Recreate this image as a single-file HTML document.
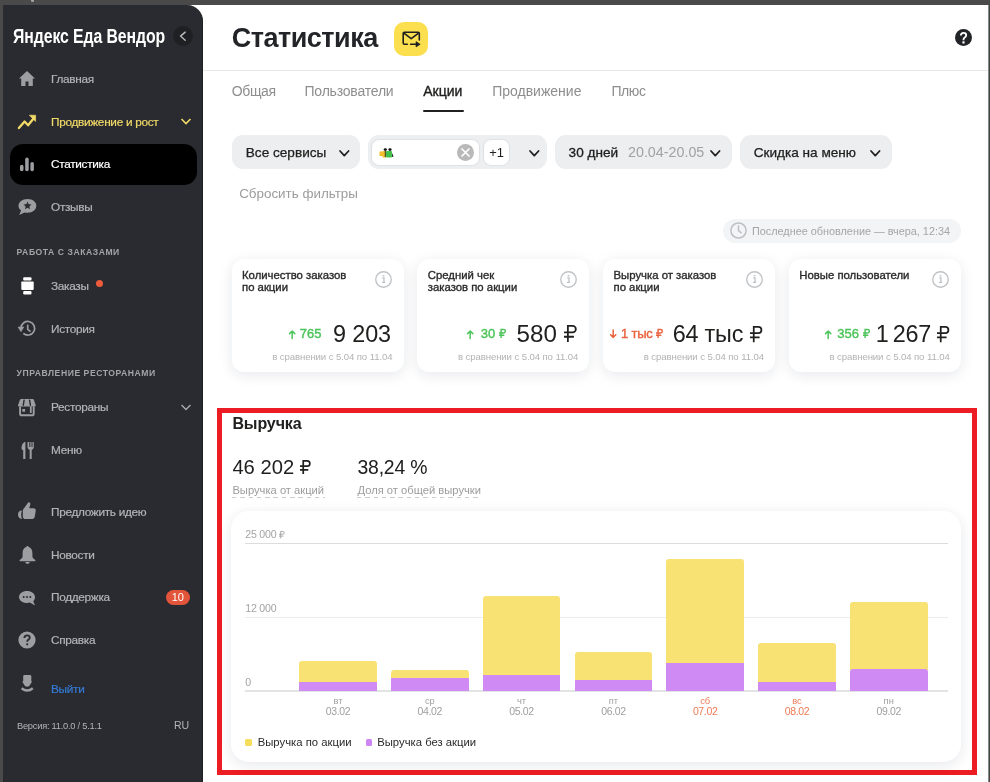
<!DOCTYPE html><html><head><meta charset="utf-8"><title>Статистика</title><style>
*{margin:0;padding:0;box-sizing:border-box}
html,body{width:990px;height:782px;overflow:hidden}
body{background:#4a4a4a;font-family:"Liberation Sans",sans-serif;position:relative}
#w{position:absolute;left:0;top:0;width:990px;height:782px;will-change:transform}
.t{position:absolute;white-space:nowrap}
.a{position:absolute}
svg{position:absolute;overflow:visible}
.rub{position:static;display:inline-block;vertical-align:baseline;width:0.56em;height:0.7em}
</style></head><body><div id="w">
<div class="a" style="left:180px;top:5px;width:808.00px;height:777.00px;background:#fff"></div>
<div class="a" style="left:988px;top:5px;width:1.00px;height:777.00px;background:#8a8a8a"></div>
<div class="a" style="left:989px;top:5px;width:1.00px;height:777.00px;background:#444"></div>
<div class="a" style="left:203px;top:70px;width:785.00px;height:1.00px;background:#e8e8e8"></div>
<div class="a" style="left:3px;top:5px;width:200.00px;height:777.00px;background:#2a2b30;border-top-right-radius:16px;border-right:1px solid #1f2024"></div>
<div class="a" style="left:30.8px;top:-1px;width:3.60px;height:3.00px;background:#a8a8a8;border-radius:50%"></div>
<div class="t" style="top:26px;font-size:20px;line-height:20px;color:#fff;font-weight:bold;left:13px;transform:scaleX(0.79);transform-origin:0 0;letter-spacing:-0.1px">Яндекс Еда Вендор</div>
<div class="a" style="left:172.5px;top:26px;width:20.00px;height:20.00px;background:#1f2024;border-radius:50%"></div>
<svg style="left:178px;top:31px" width="10" height="10" viewBox="0 0 10 10"><path d="M7.2 1.1L2.5 5.1l4.7 4.2" fill="none" stroke="#b9b9b9" stroke-width="1.4" stroke-linecap="round" stroke-linejoin="round"/></svg>
<div class="a" style="left:10px;top:144px;width:186.50px;height:40.50px;background:#000;border-radius:13px"></div>
<div class="t" style="top:74px;font-size:11.8px;line-height:11.8px;color:#b3b4b8;left:51px;letter-spacing:-0.3px;-webkit-text-stroke:0.2px #b3b4b8">Главная</div>
<div class="t" style="top:117px;font-size:11.8px;line-height:11.8px;color:#f1da68;left:51px;letter-spacing:-0.3px;-webkit-text-stroke:0.2px #f1da68">Продвижение и рост</div>
<div class="t" style="top:159px;font-size:11.8px;line-height:11.8px;color:#fff;left:51px;letter-spacing:-0.3px;-webkit-text-stroke:0.2px #fff">Статистика</div>
<div class="t" style="top:202px;font-size:11.8px;line-height:11.8px;color:#b3b4b8;left:51px;letter-spacing:-0.3px;-webkit-text-stroke:0.2px #b3b4b8">Отзывы</div>
<div class="t" style="top:281px;font-size:11.8px;line-height:11.8px;color:#b3b4b8;left:51px;letter-spacing:-0.3px;-webkit-text-stroke:0.2px #b3b4b8">Заказы</div>
<div class="t" style="top:324px;font-size:11.8px;line-height:11.8px;color:#b3b4b8;left:51px;letter-spacing:-0.3px;-webkit-text-stroke:0.2px #b3b4b8">История</div>
<div class="t" style="top:402px;font-size:11.8px;line-height:11.8px;color:#b3b4b8;left:51px;letter-spacing:-0.3px;-webkit-text-stroke:0.2px #b3b4b8">Рестораны</div>
<div class="t" style="top:445px;font-size:11.8px;line-height:11.8px;color:#b3b4b8;left:51px;letter-spacing:-0.3px;-webkit-text-stroke:0.2px #b3b4b8">Меню</div>
<div class="t" style="top:507px;font-size:11.8px;line-height:11.8px;color:#b3b4b8;left:51px;letter-spacing:-0.3px;-webkit-text-stroke:0.2px #b3b4b8">Предложить идею</div>
<div class="t" style="top:550px;font-size:11.8px;line-height:11.8px;color:#b3b4b8;left:51px;letter-spacing:-0.3px;-webkit-text-stroke:0.2px #b3b4b8">Новости</div>
<div class="t" style="top:592px;font-size:11.8px;line-height:11.8px;color:#b3b4b8;left:51px;letter-spacing:-0.3px;-webkit-text-stroke:0.2px #b3b4b8">Поддержка</div>
<div class="t" style="top:635px;font-size:11.8px;line-height:11.8px;color:#b3b4b8;left:51px;letter-spacing:-0.3px;-webkit-text-stroke:0.2px #b3b4b8">Справка</div>
<div class="t" style="top:684px;font-size:11.8px;line-height:11.8px;color:#3479d2;left:51px;letter-spacing:-0.3px;-webkit-text-stroke:0.2px #3479d2">Выйти</div>
<div class="t" style="top:248px;font-size:8.6px;line-height:8.6px;color:#a3a4a8;font-weight:bold;left:16.6px;letter-spacing:0.55px">РАБОТА С ЗАКАЗАМИ</div>
<div class="t" style="top:369px;font-size:8.6px;line-height:8.6px;color:#a3a4a8;font-weight:bold;left:16.6px;letter-spacing:0.55px">УПРАВЛЕНИЕ РЕСТОРАНАМИ</div>
<div class="t" style="top:722px;font-size:9.3px;line-height:9.3px;color:#b3b4b8;left:17px;letter-spacing:-0.25px">Версия: 11.0.0 / 5.1.1</div>
<div class="t" style="top:720px;font-size:10.6px;line-height:10.6px;color:#b3b4b8;right:800.80px;text-align:right;">RU</div>
<div class="a" style="left:96px;top:279.5px;width:7.00px;height:7.00px;background:#ec5b3c;border-radius:50%"></div>
<div class="a" style="left:166px;top:589.5px;width:23.50px;height:15.50px;background:#e3553a;border-radius:8px"></div>
<div class="t" style="top:592px;font-size:11px;line-height:11px;color:#fff;left:162.75px;width:30px;text-align:center;">10</div>
<svg style="left:180px;top:117px" width="12" height="8" viewBox="0 0 12 8"><path d="M1.5 2l4.5 4.5L10.5 2" fill="none" stroke="#f1da68" stroke-width="1.6"/></svg>
<svg style="left:180px;top:403px" width="12" height="8" viewBox="0 0 12 8"><path d="M1.5 2l4.5 4.5L10.5 2" fill="none" stroke="#a9aaae" stroke-width="1.4"/></svg>
<svg style="left:19px;top:71px" width="16" height="15" viewBox="0 0 16 15"><path d="M8 0L0 7.5h2.2V15h4.3v-4.5h3V15h4.3V7.5H16z" fill="#9d9ea2"/></svg>
<svg style="left:18px;top:114.5px" width="18" height="15" viewBox="0 0 18 15"><path d="M0.9 13.1L6.6 6.5l3.5 3.8 5.6-7.1" fill="none" stroke="#f1da68" stroke-width="2.3" stroke-linecap="round" stroke-linejoin="round"/><path d="M11.3 0.2h6.3v6.3z" fill="#f1da68" stroke="#f1da68" stroke-width="0.6" stroke-linejoin="round"/></svg>
<svg style="left:20px;top:157px" width="15" height="14" viewBox="0 0 15 14"><rect x="0" y="7.8" width="3.5" height="6.4" rx="1.75" fill="#9d9ea2"/><rect x="5.2" y="0.6" width="3.5" height="13.6" rx="1.75" fill="#9d9ea2"/><rect x="10.4" y="5.1" width="3.5" height="9.1" rx="1.75" fill="#9d9ea2"/></svg>
<svg style="left:17.5px;top:199px" width="19" height="16" viewBox="0 0 19 16"><path d="M9.5 0C4.3 0 0.5 3 0.5 6.8c0 2 1 3.6 2.6 4.8L1.2 16l5.3-2.6c1 .3 2 .4 3 .4 5.2 0 8.8-3 8.8-7S14.7 0 9.5 0z" fill="#9d9ea2"/><path d="M9.5 2.6l1.2 2.6 2.8.3-2.1 1.9.6 2.8-2.5-1.5-2.5 1.5.6-2.8-2.1-1.9 2.8-.3z" fill="#2a2b30"/></svg>
<svg style="left:20.5px;top:277px" width="13" height="18" viewBox="0 0 13 18"><rect x="2.2" y="0.3" width="8.3" height="3.3" rx="1" fill="#fff"/><rect x="0.3" y="4.5" width="12.4" height="8.4" rx="0.8" fill="#fff"/><rect x="2.2" y="14" width="8.3" height="3.4" rx="1" fill="#fff"/></svg>
<svg style="left:18px;top:320px" width="18" height="17" viewBox="0 0 18 17"><path d="M3.0 8.0A6.8 6.8 0 1 1 5.3 13.4" fill="none" stroke="#9d9ea2" stroke-width="1.7"/><path d="M0 7h5.9L2.95 11.8z" fill="#9d9ea2" stroke="#9d9ea2" stroke-width="0.5" stroke-linejoin="round"/><path d="M9.7 5.2v4.1l2.3 1.9" fill="none" stroke="#9d9ea2" stroke-width="1.6" stroke-linecap="round"/></svg>
<svg style="left:18.3px;top:399px" width="18" height="18" viewBox="0 0 18 18"><path d="M3.2 0h11.4q1 0 1.3.9l1.8 5.4q.3 1.3-1 1.3H1q-1.3 0-1-1.3L1.9.9Q2.2 0 3.2 0z" fill="#9d9ea2"/><path d="M6.1 1.2L5.3 6.2M11.6 1.2l.8 5" stroke="#2a2b30" stroke-width="1.4" stroke-linecap="round"/><path d="M2.1 7.4v7.3q0 1.6 1.6 1.6h10.4q1.6 0 1.6-1.6V7.4" fill="none" stroke="#9d9ea2" stroke-width="1.9"/><rect x="4.3" y="10" width="2.8" height="2.7" fill="#9d9ea2"/><rect x="11.9" y="7.4" width="1.8" height="6.6" fill="#9d9ea2"/></svg>
<svg style="left:20.5px;top:441.5px" width="13" height="17" viewBox="0 0 13 17"><path d="M3.5 0C1.5 1 .5 3.5.5 6c0 1.2.7 2 1.7 2.2V17h2.2V0z" fill="#9d9ea2"/><path d="M6.5 0v5c0 1.5 1 2.5 2.2 2.7V17h2V7.7C11.9 7.5 12.8 6.5 12.8 5V0h-1.3v5h-1V0H9.3v5h-1V0z" fill="#9d9ea2"/></svg>
<svg style="left:18px;top:502px" width="18" height="17" viewBox="0 0 18 17"><path d="M4 8.4C1.2 8.4 0 10.4 0 12.6S1.2 16.9 4 16.9C3.4 15.6 3.2 14.2 3.2 12.6S3.4 9.6 4 8.4z" fill="#9d9ea2"/><path d="M4.8 9.2c0-1.2.5-2.1 1.3-2.9L9.6 1.2c.7-1 1.6-1.1 2.2-.5.6.5.7 1.3.4 2.3L11.2 6.3h4.2c1.7 0 2.5 1 2.3 2.6l-.9 5.6c-.4 1.9-1.6 2.6-3.2 2.6H7.6c-1.8 0-2.8-1.1-2.8-2.9z" fill="#9d9ea2"/></svg>
<svg style="left:18.5px;top:545px" width="17" height="19" viewBox="0 0 17 19"><path d="M8.5 1c-.7 0-1.1.5-1.1 1.1C4.8 2.8 3.6 5.1 3.6 8v3.3c0 1.1-.6 2-1.5 2.6l-1.2.8c-.7.5-.4 1.5.5 1.5h14.2c.9 0 1.2-1 .5-1.5l-1.2-.8c-.9-.6-1.5-1.5-1.5-2.6V8c0-2.9-1.2-5.2-3.8-5.9C9.6 1.5 9.2 1 8.5 1z" fill="#9d9ea2"/><path d="M6.3 16.9h4.4c0 1-.9 1.8-2.2 1.8s-2.2-.8-2.2-1.8z" fill="#9d9ea2"/></svg>
<svg style="left:18.5px;top:590.5px" width="17" height="15" viewBox="0 0 17 15"><path d="M8 0C3.6 0 0 2.6 0 6s3.6 6 8 6c1 0 2-.1 2.8-.4L16 14.5l-1.7-4.3C15.4 9.1 16 7.6 16 6c0-3.4-3.6-6-8-6z" fill="#9d9ea2"/><circle cx="4.7" cy="6" r="1" fill="#2a2b30"/><circle cx="8" cy="6" r="1" fill="#2a2b30"/><circle cx="11.3" cy="6" r="1" fill="#2a2b30"/></svg>
<svg style="left:18px;top:631px" width="18" height="18" viewBox="0 0 18 18"><circle cx="9" cy="9" r="8.6" fill="#9d9ea2"/><path d="M6.4 7c0-1.6 1.1-2.6 2.7-2.6s2.6 1 2.6 2.3c0 1.1-.6 1.6-1.4 2.1-.7.4-1 .8-1 1.6v.4" fill="none" stroke="#2a2b30" stroke-width="1.9"/><circle cx="9.2" cy="13.3" r="1.1" fill="#2a2b30"/></svg>
<svg style="left:19.5px;top:675px" width="15" height="17" viewBox="0 0 15 17"><path d="M3.2 1.3Q3.2 0 4.6 0H9.9Q11.3 0 11.3 1.3V6.1L11.8 6.5Q11.9 7.7 11 8.2Q9.4 11.8 7.1 11.8Q4.8 11.8 3.3 8.2Q2.4 7.7 2.5 6.5L3.2 6.1Z" fill="#9d9ea2"/><path d="M1.6 13.2Q7.2 17.7 12.8 13.2" fill="none" stroke="#9d9ea2" stroke-width="2.4"/></svg>
<div class="t" style="top:25px;font-size:27px;line-height:27px;color:#232428;font-weight:bold;left:231.8px;letter-spacing:-0.5px">Статистика</div>
<div class="a" style="left:394px;top:21.5px;width:34.00px;height:34.00px;background:#fbdf4f;border-radius:10px"></div>
<svg style="left:402px;top:31px" width="19" height="17" viewBox="0 0 19 17"><path d="M5.3 13.3H2.4q-1.2 0-1.2-1.2V2.5q0-1.2 1.2-1.2h13.7q1.2 0 1.2 1.2V9" fill="none" stroke="#1f1f22" stroke-width="1.6" stroke-linecap="round"/><path d="M1.9 2.1l7.3 5.6 7.4-5.6" fill="none" stroke="#1f1f22" stroke-width="1.6" stroke-linejoin="round"/><path d="M8.6 13.3h6" stroke="#1f1f22" stroke-width="1.6" stroke-linecap="round"/><path d="M14 10.6l4.2 2.7-4.2 2.7z" fill="#1f1f22" stroke="#1f1f22" stroke-width="0.6" stroke-linejoin="round"/></svg>
<div class="a" style="left:955px;top:29px;width:17.40px;height:17.40px;background:#222327;border-radius:50%"></div>
<svg style="left:955.2px;top:29.2px" width="17" height="17" viewBox="0 0 17 17"><path d="M5.9 6.6c0-1.6 1.2-2.7 2.7-2.7s2.6 1 2.6 2.4c0 1.2-.7 1.8-1.5 2.3-.8.5-1.2 1-1.2 2v.7" fill="none" stroke="#fff" stroke-width="1.8"/><rect x="7.4" y="12.3" width="2.2" height="2.2" fill="#fff"/></svg>
<div class="t" style="top:84px;font-size:14px;line-height:14px;color:#8d8d8d;left:231.8px;letter-spacing:-0.4px">Общая</div>
<div class="t" style="top:84px;font-size:14px;line-height:14px;color:#8d8d8d;left:304.5px;letter-spacing:-0.2px">Пользователи</div>
<div class="t" style="top:84px;font-size:14px;line-height:14px;color:#21201f;left:423.2px;-webkit-text-stroke:0.35px #21201f">Акции</div>
<div class="t" style="top:84px;font-size:14px;line-height:14px;color:#8d8d8d;left:492.2px;">Продвижение</div>
<div class="t" style="top:84px;font-size:14px;line-height:14px;color:#8d8d8d;left:611.4px;letter-spacing:-0.4px">Плюс</div>
<div class="a" style="left:423px;top:109.5px;width:40.50px;height:2.50px;background:#21201f;border-radius:2px"></div>
<div class="a" style="left:232px;top:135.4px;width:128.00px;height:33.60px;background:#eceef0;border-radius:11px"></div>
<div class="t" style="top:146px;font-size:13.6px;line-height:13.6px;color:#21201f;left:245.8px;-webkit-text-stroke:0.25px #21201f">Все сервисы</div>
<svg style="left:338.5px;top:149.5px" width="10.6" height="6.6" viewBox="0 0 10.6 6.6"><path d="M1 1l4.3 4.6l4.3 -4.6" fill="none" stroke="#21201f" stroke-width="1.75" stroke-linecap="round" stroke-linejoin="round"/></svg>
<div class="a" style="left:368px;top:135.4px;width:179.30px;height:33.60px;background:#eceef0;border-radius:11px"></div>
<div class="a" style="left:371.7px;top:139.6px;width:106.90px;height:25.90px;background:#fff;border-radius:7px;box-shadow:0 0 0 0.8px #dcdee2"></div>
<div class="a" style="left:484px;top:139.6px;width:25.30px;height:25.90px;background:#fff;border-radius:7px;box-shadow:0 0 0 0.8px #dcdee2"></div>
<div class="t" style="top:147px;font-size:12.9px;line-height:12.9px;color:#21201f;left:481.60px;width:30px;text-align:center;">+1</div>
<div class="a" style="left:457.1px;top:143.9px;width:17.40px;height:17.40px;background:#b9b9b9;border-radius:50%"></div>
<svg style="left:461.3px;top:148.1px" width="9" height="9" viewBox="0 0 9 9"><path d="M1 1l7 7M8 1L1 8" stroke="#fff" stroke-width="1.7" stroke-linecap="round"/></svg>
<svg style="left:379px;top:147px" width="15" height="11" viewBox="0 0 15 11"><path d="M0.5 4.5h3l.5-.5h3v6.5H3.5v-1.5H0.5z" fill="#f4be2f"/><rect x="7" y="4" width="6" height="6.5" rx="1" fill="#43c04c"/><ellipse cx="6.3" cy="2.6" rx="1.6" ry="1.3" fill="#111"/><ellipse cx="11" cy="2.6" rx="1.6" ry="1.3" fill="#111"/><path d="M13 6l1.6 3.6-1.6.4z" fill="#222"/><path d="M6.3 4v6" stroke="#1c2a1c" stroke-width="0.9"/></svg>
<svg style="left:528.7px;top:149.5px" width="10.6" height="6.6" viewBox="0 0 10.6 6.6"><path d="M1 1l4.3 4.6l4.3 -4.6" fill="none" stroke="#21201f" stroke-width="1.75" stroke-linecap="round" stroke-linejoin="round"/></svg>
<div class="a" style="left:555.2px;top:135.4px;width:177.10px;height:33.60px;background:#eceef0;border-radius:11px"></div>
<div class="t" style="top:146px;font-size:13.6px;line-height:13.6px;color:#21201f;left:568.6px;-webkit-text-stroke:0.3px #21201f">30 дней</div>
<div class="t" style="top:145px;font-size:14.3px;line-height:14.3px;color:#a2a2a2;left:628px;">20.04-20.05</div>
<svg style="left:709.8px;top:149.5px" width="10.6" height="6.6" viewBox="0 0 10.6 6.6"><path d="M1 1l4.3 4.6l4.3 -4.6" fill="none" stroke="#21201f" stroke-width="1.75" stroke-linecap="round" stroke-linejoin="round"/></svg>
<div class="a" style="left:740px;top:135.4px;width:152.00px;height:33.60px;background:#eceef0;border-radius:11px"></div>
<div class="t" style="top:146px;font-size:13.6px;line-height:13.6px;color:#21201f;left:753.7px;-webkit-text-stroke:0.25px #21201f">Скидка на меню</div>
<svg style="left:869.5px;top:149.5px" width="10.6" height="6.6" viewBox="0 0 10.6 6.6"><path d="M1 1l4.3 4.6l4.3 -4.6" fill="none" stroke="#21201f" stroke-width="1.75" stroke-linecap="round" stroke-linejoin="round"/></svg>
<div class="t" style="top:187px;font-size:13.4px;line-height:13.4px;color:#9c9c9c;left:239.2px;">Сбросить фильтры</div>
<div class="a" style="left:722.6px;top:218.8px;width:238.60px;height:24.00px;background:#f3f4f6;border-radius:12px"></div>
<svg style="left:730.3px;top:222.3px" width="17" height="17" viewBox="0 0 17 17"><circle cx="8.5" cy="8.5" r="7.6" fill="none" stroke="#bdc0c3" stroke-width="1.5"/><path d="M8.5 4v4.7l2.7 2.1" fill="none" stroke="#bdc0c3" stroke-width="1.5" stroke-linecap="round"/></svg>
<div class="t" style="top:226px;font-size:10.85px;line-height:10.85px;color:#a5a5a5;left:752px;">Последнее обновление — вчера, 12:34</div>
<div class="a" style="left:231.6px;top:258.5px;width:171.95px;height:113.30px;background:#fff;border-radius:12px;box-shadow:0 3px 14px rgba(20,30,60,0.10)"></div>
<div class="t" style="top:270px;font-size:11.35px;line-height:11.35px;color:#2b2b2b;left:242px;-webkit-text-stroke:0.35px #2b2b2b">Количество заказов</div>
<div class="t" style="top:282px;font-size:11.35px;line-height:11.35px;color:#2b2b2b;left:242px;-webkit-text-stroke:0.35px #2b2b2b">по акции</div>
<svg style="left:374.65px;top:270.5px" width="17" height="17" viewBox="0 0 17 17"><circle cx="8.5" cy="8.5" r="7.75" fill="none" stroke="#c0c3c6" stroke-width="1.4"/><rect x="7.7" y="4" width="1.7" height="1.4" fill="#c0c3c6"/><path d="M7.2 6.9h1.8v4.4M7 11.3h3.2" fill="none" stroke="#c0c3c6" stroke-width="1.3"/></svg>
<div class="a" style="left:417.35px;top:258.5px;width:171.95px;height:113.30px;background:#fff;border-radius:12px;box-shadow:0 3px 14px rgba(20,30,60,0.10)"></div>
<div class="t" style="top:270px;font-size:11.35px;line-height:11.35px;color:#2b2b2b;left:427.75px;-webkit-text-stroke:0.35px #2b2b2b">Средний чек</div>
<div class="t" style="top:282px;font-size:11.35px;line-height:11.35px;color:#2b2b2b;left:427.75px;-webkit-text-stroke:0.35px #2b2b2b">заказов по акции</div>
<svg style="left:560.4px;top:270.5px" width="17" height="17" viewBox="0 0 17 17"><circle cx="8.5" cy="8.5" r="7.75" fill="none" stroke="#c0c3c6" stroke-width="1.4"/><rect x="7.7" y="4" width="1.7" height="1.4" fill="#c0c3c6"/><path d="M7.2 6.9h1.8v4.4M7 11.3h3.2" fill="none" stroke="#c0c3c6" stroke-width="1.3"/></svg>
<div class="a" style="left:603.1px;top:258.5px;width:171.95px;height:113.30px;background:#fff;border-radius:12px;box-shadow:0 3px 14px rgba(20,30,60,0.10)"></div>
<div class="t" style="top:270px;font-size:11.35px;line-height:11.35px;color:#2b2b2b;left:613.5px;-webkit-text-stroke:0.35px #2b2b2b">Выручка от заказов</div>
<div class="t" style="top:282px;font-size:11.35px;line-height:11.35px;color:#2b2b2b;left:613.5px;-webkit-text-stroke:0.35px #2b2b2b">по акции</div>
<svg style="left:746.15px;top:270.5px" width="17" height="17" viewBox="0 0 17 17"><circle cx="8.5" cy="8.5" r="7.75" fill="none" stroke="#c0c3c6" stroke-width="1.4"/><rect x="7.7" y="4" width="1.7" height="1.4" fill="#c0c3c6"/><path d="M7.2 6.9h1.8v4.4M7 11.3h3.2" fill="none" stroke="#c0c3c6" stroke-width="1.3"/></svg>
<div class="a" style="left:788.85px;top:258.5px;width:171.95px;height:113.30px;background:#fff;border-radius:12px;box-shadow:0 3px 14px rgba(20,30,60,0.10)"></div>
<div class="t" style="top:270px;font-size:11.35px;line-height:11.35px;color:#2b2b2b;left:799.25px;-webkit-text-stroke:0.35px #2b2b2b">Новые пользователи</div>
<svg style="left:931.9px;top:270.5px" width="17" height="17" viewBox="0 0 17 17"><circle cx="8.5" cy="8.5" r="7.75" fill="none" stroke="#c0c3c6" stroke-width="1.4"/><rect x="7.7" y="4" width="1.7" height="1.4" fill="#c0c3c6"/><path d="M7.2 6.9h1.8v4.4M7 11.3h3.2" fill="none" stroke="#c0c3c6" stroke-width="1.3"/></svg>
<div class="t" style="top:323px;font-size:23.4px;line-height:23.4px;color:#21201f;right:599.00px;text-align:right;letter-spacing:-0.1px">9 203</div>
<div class="t" style="top:327px;font-size:13px;line-height:13px;color:#4cc45a;right:668.60px;text-align:right;-webkit-text-stroke:0.4px #4cc45a">765</div>
<svg style="left:288.7px;top:329.5px" width="6.4" height="8.4" viewBox="0 0 6.4 8.4"><path d="M3.2 8.4V1M0.6 3.6L3.2 1l2.6 2.6" fill="none" stroke="#4cc45a" stroke-width="1.5" stroke-linecap="round" stroke-linejoin="round"/></svg>
<div class="t" style="top:322px;font-size:24.2px;line-height:24.2px;color:#21201f;right:412.80px;text-align:right;">580 <svg class="rub" viewBox="0 0 56 70" width="0.56em" height="0.7em"><path d="M16 70V3.9H35.5A13.4 13.4 0 0 1 35.5 30.7H0M0 48.5H41" fill="none" stroke="currentColor" stroke-width="7.5"/></svg></div>
<div class="t" style="top:327px;font-size:13px;line-height:13px;color:#4cc45a;right:483.80px;text-align:right;-webkit-text-stroke:0.4px #4cc45a">30 <svg class="rub" viewBox="0 0 56 70" width="0.56em" height="0.7em"><path d="M16 70V3.9H35.5A13.4 13.4 0 0 1 35.5 30.7H0M0 48.5H41" fill="none" stroke="currentColor" stroke-width="11"/></svg></div>
<svg style="left:467.4px;top:329.5px" width="6.4" height="8.4" viewBox="0 0 6.4 8.4"><path d="M3.2 8.4V1M0.6 3.6L3.2 1l2.6 2.6" fill="none" stroke="#4cc45a" stroke-width="1.5" stroke-linecap="round" stroke-linejoin="round"/></svg>
<div class="t" style="top:323px;font-size:23.4px;line-height:23.4px;color:#21201f;right:227.40px;text-align:right;letter-spacing:-0.2px">64 тыс <svg class="rub" viewBox="0 0 56 70" width="0.56em" height="0.7em"><path d="M16 70V3.9H35.5A13.4 13.4 0 0 1 35.5 30.7H0M0 48.5H41" fill="none" stroke="currentColor" stroke-width="7.5"/></svg></div>
<div class="t" style="top:327px;font-size:13px;line-height:13px;color:#e9633d;right:326.70px;text-align:right;letter-spacing:-0.2px;-webkit-text-stroke:0.4px #e9633d">1 тыс <svg class="rub" viewBox="0 0 56 70" width="0.56em" height="0.7em"><path d="M16 70V3.9H35.5A13.4 13.4 0 0 1 35.5 30.7H0M0 48.5H41" fill="none" stroke="currentColor" stroke-width="11"/></svg></div>
<svg style="left:610.3px;top:329.5px" width="6.4" height="8.4" viewBox="0 0 6.4 8.4"><path d="M3.2 0V7.4M0.6 4.8L3.2 7.4l2.6-2.6" fill="none" stroke="#e9633d" stroke-width="1.5" stroke-linecap="round" stroke-linejoin="round"/></svg>
<div class="t" style="top:323px;font-size:23.4px;line-height:23.4px;color:#21201f;right:39.80px;text-align:right;letter-spacing:-0.3px">1&#8201;267 <svg class="rub" viewBox="0 0 56 70" width="0.56em" height="0.7em"><path d="M16 70V3.9H35.5A13.4 13.4 0 0 1 35.5 30.7H0M0 48.5H41" fill="none" stroke="currentColor" stroke-width="7.5"/></svg></div>
<div class="t" style="top:327px;font-size:13px;line-height:13px;color:#4cc45a;right:120.20px;text-align:right;-webkit-text-stroke:0.4px #4cc45a">356 <svg class="rub" viewBox="0 0 56 70" width="0.56em" height="0.7em"><path d="M16 70V3.9H35.5A13.4 13.4 0 0 1 35.5 30.7H0M0 48.5H41" fill="none" stroke="currentColor" stroke-width="11"/></svg></div>
<svg style="left:825px;top:329.5px" width="6.4" height="8.4" viewBox="0 0 6.4 8.4"><path d="M3.2 8.4V1M0.6 3.6L3.2 1l2.6 2.6" fill="none" stroke="#4cc45a" stroke-width="1.5" stroke-linecap="round" stroke-linejoin="round"/></svg>
<div class="t" style="top:352px;font-size:9.6px;line-height:9.6px;color:#b3b3b3;right:597.55px;text-align:right;letter-spacing:-0.1px">в сравнении с 5.04 по 11.04</div>
<div class="t" style="top:352px;font-size:9.6px;line-height:9.6px;color:#b3b3b3;right:411.80px;text-align:right;letter-spacing:-0.1px">в сравнении с 5.04 по 11.04</div>
<div class="t" style="top:352px;font-size:9.6px;line-height:9.6px;color:#b3b3b3;right:226.05px;text-align:right;letter-spacing:-0.1px">в сравнении с 5.04 по 11.04</div>
<div class="t" style="top:352px;font-size:9.6px;line-height:9.6px;color:#b3b3b3;right:40.30px;text-align:right;letter-spacing:-0.1px">в сравнении с 5.04 по 11.04</div>
<div class="a" style="left:217px;top:408px;width:760.00px;height:367.00px;border:5px solid #ec1c24"></div>
<div class="t" style="top:416px;font-size:16px;line-height:16px;color:#21201f;font-weight:bold;left:232.4px;letter-spacing:-0.1px">Выручка</div>
<div class="t" style="top:457px;font-size:20.2px;line-height:20.2px;color:#21201f;left:232.4px;">46 202 <svg class="rub" viewBox="0 0 56 70" width="0.56em" height="0.7em"><path d="M16 70V3.9H35.5A13.4 13.4 0 0 1 35.5 30.7H0M0 48.5H41" fill="none" stroke="currentColor" stroke-width="8.5"/></svg></div>
<div class="t" style="top:458px;font-size:19.4px;line-height:19.4px;color:#21201f;left:357.5px;letter-spacing:-0.2px">38,24 %</div>
<div class="t" style="top:485px;font-size:11.2px;line-height:11.2px;color:#9c9c9c;left:232.4px;">Выручка от акций</div>
<div class="t" style="top:485px;font-size:11.2px;line-height:11.2px;color:#9c9c9c;left:357.5px;">Доля от общей выручки</div>
<div class="a" style="left:231.5px;top:496.8px;width:93.00px;height:1.10px;background:repeating-linear-gradient(90deg,#cdcdcd 0 4.4px,transparent 4.4px 8.3px)"></div>
<div class="a" style="left:357px;top:496.8px;width:124.50px;height:1.10px;background:repeating-linear-gradient(90deg,#cdcdcd 0 4.4px,transparent 4.4px 8.3px)"></div>
<div class="a" style="left:231.3px;top:511.3px;width:730.10px;height:250.90px;background:#fff;border-radius:18px;box-shadow:0 3px 14px rgba(20,30,60,0.10)"></div>
<div class="t" style="top:529px;font-size:10.6px;line-height:10.6px;color:#a4a4a4;left:245.2px;letter-spacing:-0.2px">25 000 <svg class="rub" viewBox="0 0 56 70" width="0.56em" height="0.7em"><path d="M16 70V3.9H35.5A13.4 13.4 0 0 1 35.5 30.7H0M0 48.5H41" fill="none" stroke="currentColor" stroke-width="9"/></svg></div>
<div class="t" style="top:603px;font-size:10.6px;line-height:10.6px;color:#a4a4a4;left:245.2px;letter-spacing:-0.2px">12 000</div>
<div class="t" style="top:677px;font-size:10.6px;line-height:10.6px;color:#a4a4a4;left:245.2px;">0</div>
<div class="a" style="left:245px;top:543px;width:702.50px;height:1.20px;background:#dcdcdc"></div>
<div class="a" style="left:245px;top:616.7px;width:702.50px;height:1.00px;background:#ececec"></div>
<div class="a" style="left:245px;top:690px;width:702.50px;height:2.00px;background:#e1e3e5"></div>
<div class="a" style="left:299.2px;top:661.2px;width:77.80px;height:21.30px;background:#f7e273;border-radius:3px 3px 0 0"></div>
<div class="a" style="left:299.2px;top:682px;width:77.80px;height:9.00px;background:#d08af4;"></div>
<div class="t" style="top:697px;font-size:9.3px;line-height:9.3px;color:#9f9f9f;left:308.10px;width:60px;text-align:center;">вт</div>
<div class="t" style="top:706px;font-size:10.5px;line-height:10.5px;color:#9f9f9f;left:308.10px;width:60px;text-align:center;letter-spacing:-0.35px">03.02</div>
<div class="a" style="left:390.8px;top:670px;width:78.00px;height:8.30px;background:#f7e273;border-radius:3px 3px 0 0"></div>
<div class="a" style="left:390.8px;top:677.8px;width:78.00px;height:13.20px;background:#d08af4;"></div>
<div class="t" style="top:697px;font-size:9.3px;line-height:9.3px;color:#9f9f9f;left:399.80px;width:60px;text-align:center;">ср</div>
<div class="t" style="top:706px;font-size:10.5px;line-height:10.5px;color:#9f9f9f;left:399.80px;width:60px;text-align:center;letter-spacing:-0.35px">04.02</div>
<div class="a" style="left:482.7px;top:595.8px;width:77.70px;height:79.50px;background:#f7e273;border-radius:3px 3px 0 0"></div>
<div class="a" style="left:482.7px;top:674.8px;width:77.70px;height:16.20px;background:#d08af4;"></div>
<div class="t" style="top:697px;font-size:9.3px;line-height:9.3px;color:#9f9f9f;left:491.55px;width:60px;text-align:center;">чт</div>
<div class="t" style="top:706px;font-size:10.5px;line-height:10.5px;color:#9f9f9f;left:491.55px;width:60px;text-align:center;letter-spacing:-0.35px">05.02</div>
<div class="a" style="left:574.5px;top:652.1px;width:77.90px;height:28.40px;background:#f7e273;border-radius:3px 3px 0 0"></div>
<div class="a" style="left:574.5px;top:680px;width:77.90px;height:11.00px;background:#d08af4;"></div>
<div class="t" style="top:697px;font-size:9.3px;line-height:9.3px;color:#9f9f9f;left:583.45px;width:60px;text-align:center;">пт</div>
<div class="t" style="top:706px;font-size:10.5px;line-height:10.5px;color:#9f9f9f;left:583.45px;width:60px;text-align:center;letter-spacing:-0.35px">06.02</div>
<div class="a" style="left:666.3px;top:559.4px;width:77.70px;height:103.80px;background:#f7e273;border-radius:3px 3px 0 0"></div>
<div class="a" style="left:666.3px;top:662.7px;width:77.70px;height:28.30px;background:#d08af4;"></div>
<div class="t" style="top:697px;font-size:9.3px;line-height:9.3px;color:#ee7b55;left:675.15px;width:60px;text-align:center;">сб</div>
<div class="t" style="top:706px;font-size:10.5px;line-height:10.5px;color:#ee7b55;left:675.15px;width:60px;text-align:center;letter-spacing:-0.35px">07.02</div>
<div class="a" style="left:758px;top:643.3px;width:78.00px;height:39.00px;background:#f7e273;border-radius:3px 3px 0 0"></div>
<div class="a" style="left:758px;top:681.8px;width:78.00px;height:9.20px;background:#d08af4;"></div>
<div class="t" style="top:697px;font-size:9.3px;line-height:9.3px;color:#ee7b55;left:767.00px;width:60px;text-align:center;">вс</div>
<div class="t" style="top:706px;font-size:10.5px;line-height:10.5px;color:#ee7b55;left:767.00px;width:60px;text-align:center;letter-spacing:-0.35px">08.02</div>
<div class="a" style="left:849.7px;top:602px;width:78.00px;height:67.80px;background:#f7e273;border-radius:3px 3px 0 0"></div>
<div class="a" style="left:849.7px;top:669.3px;width:78.00px;height:21.70px;background:#d08af4;border-radius:3px 3px 0 0;"></div>
<div class="t" style="top:697px;font-size:9.3px;line-height:9.3px;color:#9f9f9f;left:858.70px;width:60px;text-align:center;">пн</div>
<div class="t" style="top:706px;font-size:10.5px;line-height:10.5px;color:#9f9f9f;left:858.70px;width:60px;text-align:center;letter-spacing:-0.35px">09.02</div>
<div class="a" style="left:245.2px;top:738.8px;width:6.80px;height:7.00px;background:#f6dd5b;border-radius:1.5px"></div>
<div class="t" style="top:737px;font-size:11.3px;line-height:11.3px;color:#2b2b2b;left:257.7px;">Выручка по акции</div>
<div class="a" style="left:365.6px;top:738.8px;width:6.80px;height:7.00px;background:#cf86f3;border-radius:1.5px"></div>
<div class="t" style="top:737px;font-size:11.3px;line-height:11.3px;color:#2b2b2b;left:377.2px;">Выручка без акции</div>
</div></body></html>
